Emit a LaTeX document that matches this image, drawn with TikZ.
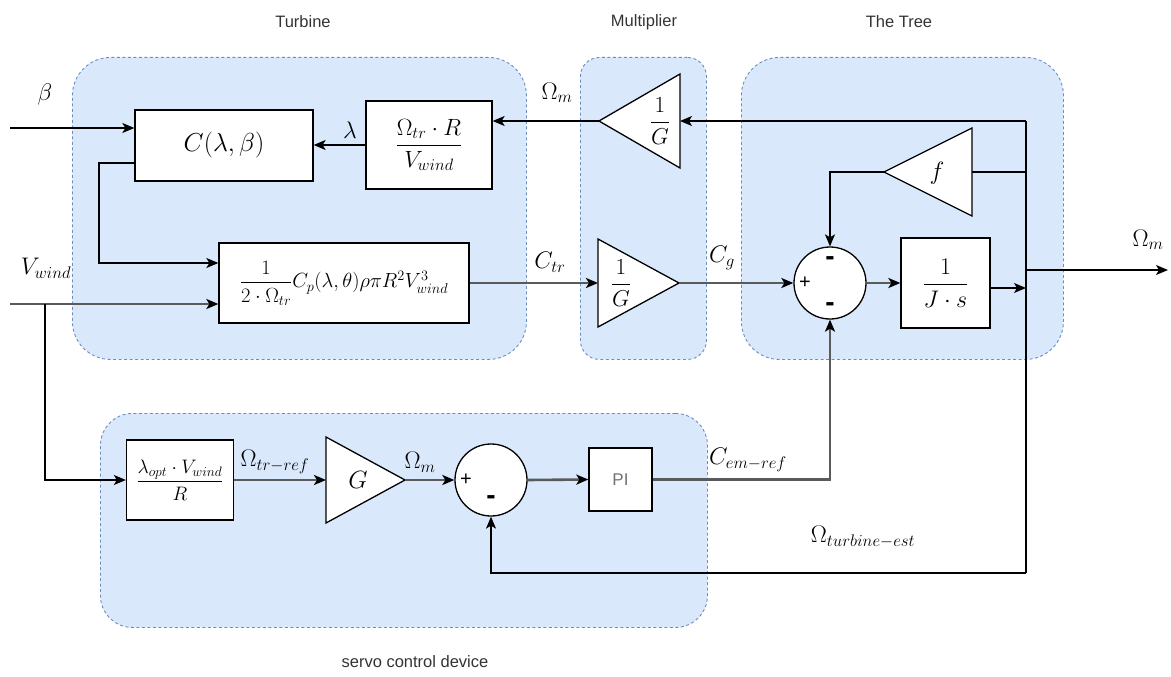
\RequirePackage{fix-cm}
\documentclass[tikz,border=0pt]{standalone}
\usepackage{amsmath}
\usepackage{fontspec}
\newfontfamily\labfont{Liberation Sans}
\usetikzlibrary{arrows.meta,shapes.geometric,calc}
\definecolor{grpfill}{HTML}{DAE8FC}
\definecolor{grpline}{HTML}{6C8EBF}
\definecolor{labgray}{HTML}{333333}
\definecolor{wiregray}{HTML}{5A5A5A}
\newcommand\fsz[1]{\fontsize{#1}{#1}\selectfont}

\begin{document}
\begin{tikzpicture}[x=1pt,y=-1pt,
  grp/.style={draw=grpline, fill=grpfill, dash pattern=on 3pt off 2.5pt,
    line width=0.9pt, anchor=north west, inner sep=0pt},
  grplabel/.style={font=\labfont\fsz{16.5}, text=labgray},
  blk/.style={draw=black, fill=white, line width=1.3pt, inner sep=0pt},
  wire/.style={line width=1.3pt, draw=black},
  heavy/.style={line width=2.6pt, draw=wiregray},
  tip/.style={-{Stealth[length=12pt,width=10pt,inset=3pt,color=black]}},
  mlabel/.style={font=\fsz{24}, inner sep=0pt},
  sign/.style={font=\labfont\fsz{20}, inner sep=0pt},
  minus/.style={font=\labfont\bfseries\fsz{28}, inner sep=0pt},
  sumc/.style={circle, draw=black, fill=white, line width=1.3pt, minimum size=72pt, inner sep=0pt},
]
\useasboundingbox (0,0) rectangle (1171,677);

% ---- group backgrounds ----
\node[grp, rounded corners=38pt, minimum width=454pt, minimum height=302pt] (turb) at (72,57) {};
\node[grp, rounded corners=19pt, minimum width=126pt, minimum height=302pt] (mult) at (580,57) {};
\node[grp, rounded corners=38pt, minimum width=322pt, minimum height=302pt] (tree) at (741,57) {};
\node[grp, rounded corners=32pt, minimum width=607pt, minimum height=214pt] (servo) at (100,413) {};

\node[grplabel] (lturb) at (303,22) {Turbine};
\node[grplabel] (lmult) at (644,22) {Multiplier};
\node[grplabel] (ltree) at (899,22) {The Tree};
\node[grplabel] (lservo) at (415,662) {servo control device};

% ---- turbine blocks ----
\node[blk, minimum width=178pt, minimum height=71pt] (cbox) at (224,145.5)
  {\fsz{26}$C(\lambda,\beta)$};
\node[blk, minimum width=126pt, minimum height=88pt] (lbox) at (429,145)
  {\fsz{23.5}$\dfrac{\Omega_{tr}\cdot R}{V_{wind}}$};
\node[blk, minimum width=250pt, minimum height=80pt] (pbox) at (344,283)
  {\fsz{20.5}$\dfrac{1}{2\cdot\Omega_{tr}}C_p(\lambda,\theta)\rho\pi R^2V_{wind}^3$};

% ---- multiplier gains ----
\path[blk] (680,74) -- (680,168) -- (599,121) -- cycle;
\coordinate (gaIn) at (680,121);
\coordinate (gaOut) at (599,121);
\node[mlabel, font=\fsz{23}] (gaTxt) at (660,121) {$\dfrac{1}{G}$};

\path[blk] (598,239) -- (598,327) -- (679,283) -- cycle;
\coordinate (gbIn) at (598,283);
\coordinate (gbOut) at (679,283);
\node[mlabel, font=\fsz{23}] (gbTxt) at (621,283) {$\dfrac{1}{G}$};

% ---- shaft dynamics ----
\path[blk] (972,128) -- (972,216) -- (884,172) -- cycle;
\coordinate (fIn) at (972,172);
\coordinate (fOut) at (884,172);
\node[mlabel, font=\fsz{25}] (fTxt) at (937,173) {$f$};

\node[sumc] (s1) at (830,283) {};
\node[sign] (s1p) at (805,283) {+};
\node[minus] (s1a) at (830,261) {-};
\node[minus] (s1b) at (830,307) {-};

\node[blk, minimum width=89pt, minimum height=90pt] (jbox) at (945.5,283)
  {\fsz{24}$\dfrac{1}{J\cdot s}$};

% ---- servo control ----
\node[blk, minimum width=107pt, minimum height=80pt] (obox) at (180,480)
  {\fsz{19.5}$\dfrac{\lambda_{opt}\cdot V_{wind}}{R}$};

\path[blk] (326,437) -- (326,523) -- (405,480) -- cycle;
\coordinate (gcIn) at (326,480);
\coordinate (gcOut) at (405,480);
\node[mlabel, font=\fsz{25}] (gcTxt) at (358,480) {$G$};

\node[sumc] (s2) at (491,480) {};
\node[sign] (s2p) at (466,480) {+};
\node[minus] (s2m) at (491,500) {-};

\node[blk, minimum width=63pt, minimum height=63pt, font=\labfont\fsz{17}, text=black!55] (pi) at (620.5,479.5) {PI};

% ---- free ends and branch points ----
\coordinate (betaIn) at (10,128);
\coordinate (windIn) at (10,304);
\coordinate (windTap) at (45,304);
\coordinate (cOut) at (135,163);
\coordinate (cBend) at (99,163);
\coordinate (tapTop) at (1026,121);
\coordinate (tapF) at (1026,172);
\coordinate (tapOut) at (1026,270);
\coordinate (tapBot) at (1026,573);
\coordinate (omOut) at (1168,270);

% ---- connectors: turbine ----
\draw[wire, tip] (betaIn) -- (betaIn -| cbox.west);
\draw[wire, tip] (lbox.west) -- (lbox.west -| cbox.east);
\draw[wire, tip] (cOut) -- (cBend) -- (cBend |- 0,263) -- (pbox.west |- 0,263);
\draw[heavy, tip] (windIn) -- (windIn -| pbox.west);
\draw[wire, tip] (windTap) -- (windTap |- obox.west) -- (obox.west);
\draw[heavy, tip] (pbox.east) -- (gbIn);
\draw[wire, tip] (gaOut) -- (gaOut -| lbox.east);

% ---- connectors: shaft ----
\draw[heavy, tip] (gbOut) -- (s1.west);
\draw[heavy, tip] (s1.east) -- (jbox.west);
\draw[wire, tip] ([yshift=-5pt]jbox.east) -- ([yshift=-5pt]jbox.east -| tapOut);
\draw[wire] (tapBot) -- (tapTop);
\draw[wire, tip] (tapTop) -- (gaIn);
\draw[wire] (tapF) -- (fIn);
\draw[wire, tip] (fOut) -- (fOut -| s1.north) -- (s1.north);
\draw[wire, tip] (tapOut) -- (omOut);

% ---- connectors: servo ----
\draw[heavy, tip] (obox.east) -- (gcIn);
\draw[heavy, tip] (gcOut) -- (s2.west);
\draw[heavy, tip] (s2.east) -- (pi.west);
\draw[heavy, tip] (pi.east) -- (pi.east -| s1.south) -- (s1.south);
\draw[wire, tip] (tapBot) -- (tapBot -| s2.south) -- (s2.south);

% ---- signal labels ----
\node[mlabel] (lbeta) at (45,95) {$\beta$};
\node[mlabel] (llam) at (350,130) {$\lambda$};
\node[mlabel] (lwind) at (46,268) {$V_{wind}$};
\node[mlabel] (lomA) at (557,93) {$\Omega_m$};
\node[mlabel] (lctr) at (550,262) {$C_{tr}$};
\node[mlabel] (lcg) at (722,258) {$C_g$};
\node[mlabel] (lomB) at (1148,240) {$\Omega_m$};
\node[mlabel] (lref) at (275,462) {$\Omega_{tr-ref}$};
\node[mlabel] (lomC) at (420,462) {$\Omega_m$};
\node[mlabel] (lcem) at (748,460) {$C_{em-ref}$};
\node[mlabel] (lest) at (863,537) {$\Omega_{turbine-est}$};
\end{tikzpicture}
\end{document}
